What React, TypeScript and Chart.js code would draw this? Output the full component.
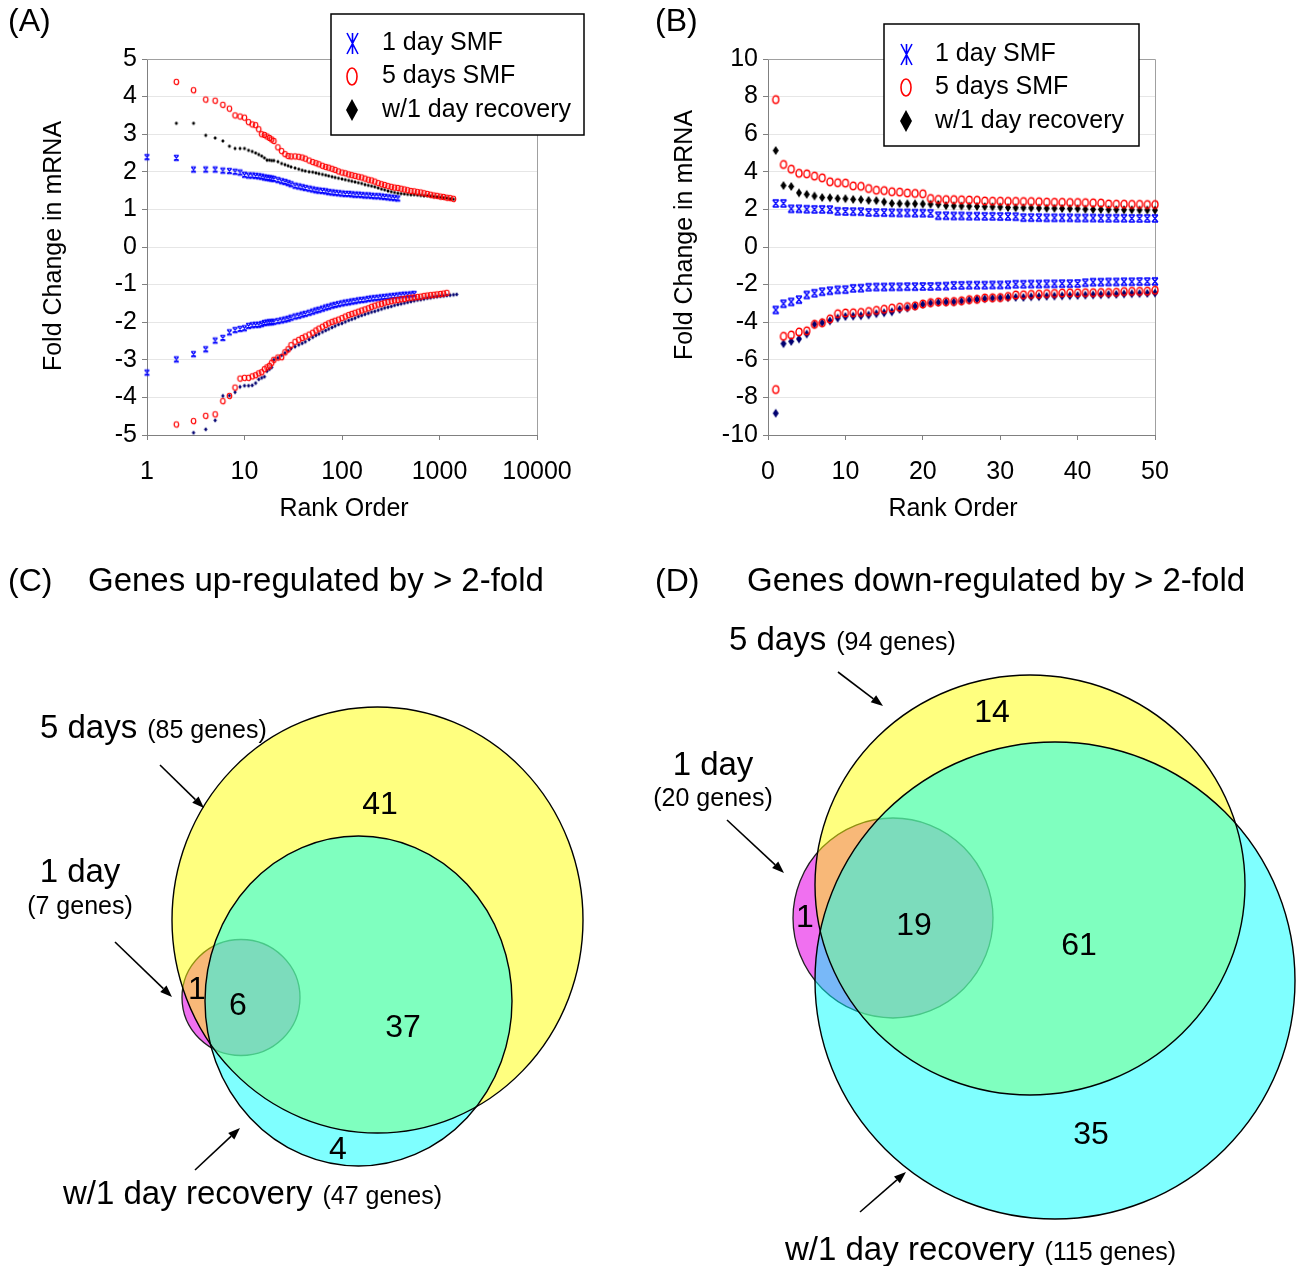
import React, { useEffect, useRef } from "react";
import { Chart, registerables } from "chart.js";

Chart.register(...registerables);

const FONT = '"Liberation Sans", Arial, Helvetica, sans-serif';

// ---------------- shared labels ----------------
const seriesLabels = ["1 day SMF", "5 days SMF", "w/1 day recovery"];

// ---------------- Panel A (log rank axis) ----------------
const xTicksA = [1, 10, 100, 1000, 10000];
const yTicksA = [-5, -4, -3, -2, -1, 0, 1, 2, 3, 4, 5];
const rankA = [
  1, 2, 3, 4, 5, 6, 7, 8, 9, 10, 11, 12, 13, 14, 15, 16, 17, 18, 19, 20,
  22, 24, 26, 28, 30, 33, 36, 39, 42, 46, 50,
  54, 58, 63, 68, 73, 79, 85, 92, 100,
  108, 117, 126, 136, 147, 159, 172, 186, 201,
  217, 235, 254, 274, 296, 320, 346, 374,
  404, 436, 471, 509, 550, 594, 642, 693, 749,
  809, 874, 944, 1020, 1100, 1190, 1285, 1390, 1500, 1600,
];
const oneDayUpA = [
  2.39, 2.37, 2.06, 2.06, 2.06, 2.03, 2.02, 2.0, 1.98, 1.92,
  1.9, 1.9, 1.89, 1.88, 1.87, 1.85, 1.84, 1.83, 1.82, 1.81,
  1.78, 1.75, 1.73, 1.7, 1.67, 1.63, 1.61, 1.59, 1.57, 1.55, 1.53,
  1.51, 1.5, 1.49, 1.48, 1.46, 1.45, 1.44, 1.43, 1.42,
  1.41, 1.41, 1.4, 1.39, 1.39, 1.38, 1.37, 1.37, 1.36,
  1.35, 1.35, 1.34, 1.33, 1.32, 1.31, 1.3, 1.29,
];
const fiveDaysUpA = [
  7.84, 4.39, 4.17, 3.92, 3.89, 3.78, 3.68, 3.5, 3.47, 3.44,
  3.32, 3.26, 3.24, 3.13, 3.0, 2.98, 2.94, 2.9, 2.86, 2.82,
  2.65, 2.55, 2.47, 2.42, 2.41, 2.41, 2.4, 2.38, 2.35, 2.3, 2.26,
  2.23, 2.2, 2.16, 2.13, 2.11, 2.08, 2.05, 2.01, 1.98,
  1.96, 1.93, 1.91, 1.89, 1.87, 1.85, 1.82, 1.79, 1.77,
  1.74, 1.7, 1.67, 1.65, 1.62, 1.6, 1.58, 1.57,
  1.55, 1.53, 1.51, 1.49, 1.48, 1.46, 1.45, 1.43, 1.41,
  1.39, 1.37, 1.36, 1.34, 1.33, 1.31, 1.3, 1.28,
];
const recoveryUpA = [
  5.13, 3.29, 3.29, 2.97, 2.9, 2.82, 2.68, 2.62, 2.62, 2.62,
  2.57, 2.54, 2.5, 2.46, 2.42, 2.37, 2.31, 2.31, 2.3, 2.3,
  2.27, 2.22, 2.19, 2.16, 2.13, 2.1, 2.07, 2.04, 2.02, 2.0, 1.99,
  1.97, 1.95, 1.93, 1.91, 1.89, 1.87, 1.85, 1.83, 1.81,
  1.79, 1.77, 1.75, 1.73, 1.71, 1.69, 1.66, 1.64, 1.62,
  1.6, 1.57, 1.54, 1.52, 1.49, 1.47, 1.45, 1.43,
  1.42, 1.41, 1.4, 1.39, 1.39, 1.38, 1.37, 1.36, 1.36,
  1.35, 1.34, 1.33, 1.32, 1.31, 1.3, 1.28, 1.27,
];
const oneDayDownA = [
  -3.34, -2.99, -2.85, -2.72, -2.49, -2.42, -2.27, -2.21, -2.18, -2.16,
  -2.1, -2.08, -2.07, -2.07, -2.05, -2.02, -2.01, -2.0, -2.0, -1.99,
  -1.97, -1.95, -1.93, -1.91, -1.88, -1.85, -1.83, -1.8, -1.78, -1.75, -1.72,
  -1.69, -1.67, -1.64, -1.61, -1.59, -1.56, -1.54, -1.52, -1.5,
  -1.48, -1.47, -1.45, -1.44, -1.42, -1.41, -1.4, -1.38, -1.37,
  -1.36, -1.35, -1.34, -1.33, -1.32, -1.31, -1.3, -1.29,
  -1.28, -1.27, -1.27, -1.26, -1.25,
];
const fiveDaysDownA = [
  -7.58, -4.72, -4.63, -4.49, -4.45, -4.1, -3.96, -3.74, -3.5, -3.48,
  -3.48, -3.44, -3.41, -3.36, -3.33, -3.25, -3.2, -3.16, -3.08, -3.0,
  -2.94, -2.93, -2.8, -2.72, -2.61, -2.52, -2.47, -2.42, -2.38, -2.33, -2.28,
  -2.22, -2.17, -2.12, -2.07, -2.03, -1.99, -1.96, -1.93, -1.89,
  -1.85, -1.81, -1.78, -1.75, -1.72, -1.69, -1.66, -1.63, -1.59,
  -1.56, -1.53, -1.51, -1.48, -1.46, -1.44, -1.42, -1.41,
  -1.39, -1.38, -1.36, -1.35, -1.34, -1.33, -1.32, -1.3, -1.29,
  -1.28, -1.27, -1.26, -1.25, -1.24, -1.22,
];
const recoveryDownA = [
  -8.84, -5.14, -4.94, -4.85, -4.61, -3.96, -3.95, -3.86, -3.72, -3.69,
  -3.69, -3.68, -3.62, -3.52, -3.48, -3.45, -3.3, -3.25, -3.2, -3.0,
  -2.95, -2.88, -2.82, -2.76, -2.7, -2.65, -2.6, -2.56, -2.52, -2.46, -2.4,
  -2.35, -2.31, -2.26, -2.22, -2.18, -2.14, -2.1, -2.06, -2.03,
  -1.99, -1.95, -1.92, -1.89, -1.85, -1.82, -1.79, -1.76, -1.73,
  -1.71, -1.68, -1.65, -1.62, -1.6, -1.58, -1.55, -1.53,
  -1.51, -1.49, -1.47, -1.45, -1.43, -1.41, -1.4, -1.38, -1.36,
  -1.35, -1.33, -1.32, -1.31, -1.3, -1.29, -1.28, -1.27, -1.26,
];

// ---------------- Panel B (top 50 ranks) ----------------
const xTicksB = [0, 10, 20, 30, 40, 50];
const yTicksB = [-10, -8, -6, -4, -2, 0, 2, 4, 6, 8, 10];
const rankB = [
  1, 2, 3, 4, 5, 6, 7, 8, 9, 10, 11, 12, 13, 14, 15, 16, 17, 18, 19, 20, 21, 22, 23, 24, 25,
  26, 27, 28, 29, 30, 31, 32, 33, 34, 35, 36, 37, 38, 39, 40, 41, 42, 43, 44, 45, 46, 47, 48, 49, 50,
];
const oneDayUpB = [
  2.32, 2.32, 2.03, 2.03, 2.01, 2.0, 2.0, 1.99, 1.9, 1.89,
  1.88, 1.88, 1.84, 1.83, 1.83, 1.82, 1.81, 1.81, 1.8, 1.8,
  1.79, 1.66, 1.66, 1.65, 1.65, 1.64, 1.64, 1.63, 1.63, 1.62,
  1.62, 1.61, 1.56, 1.56, 1.56, 1.55, 1.55, 1.55, 1.55, 1.54,
  1.54, 1.54, 1.53, 1.53, 1.53, 1.53, 1.52, 1.52, 1.52, 1.52,
];
const fiveDaysUpB = [
  7.84, 4.39, 4.14, 3.92, 3.89, 3.77, 3.68, 3.47, 3.42, 3.4,
  3.25, 3.23, 3.11, 3.02, 3.0, 2.94, 2.92, 2.87, 2.85, 2.83,
  2.58, 2.53, 2.52, 2.52, 2.51, 2.5, 2.49, 2.45, 2.44, 2.44,
  2.43, 2.43, 2.42, 2.42, 2.41, 2.39, 2.38, 2.38, 2.37, 2.37,
  2.36, 2.35, 2.34, 2.29, 2.28, 2.28, 2.27, 2.27, 2.26, 2.26,
];
const recoveryUpB = [
  5.13, 3.27, 3.22, 2.88, 2.8, 2.71, 2.63, 2.62, 2.58, 2.57,
  2.53, 2.52, 2.48, 2.47, 2.4, 2.32, 2.31, 2.3, 2.3, 2.29,
  2.28, 2.27, 2.2, 2.19, 2.18, 2.17, 2.16, 2.15, 2.14, 2.13,
  2.1, 2.09, 2.09, 2.08, 2.07, 2.06, 2.06, 2.05, 2.04, 2.04,
  2.01, 2.0, 2.0, 1.99, 1.99, 1.98, 1.98, 1.97, 1.97, 1.96,
];
const oneDayDownB = [
  -3.35, -3.02, -2.92, -2.8, -2.55, -2.46, -2.38, -2.33, -2.28, -2.27,
  -2.2, -2.19, -2.14, -2.13, -2.13, -2.12, -2.12, -2.11, -2.11, -2.1,
  -2.1, -2.09, -2.08, -2.04, -2.04, -2.03, -2.03, -2.03, -2.02, -2.02,
  -2.01, -1.98, -1.98, -1.97, -1.97, -1.96, -1.96, -1.95, -1.95, -1.94,
  -1.9, -1.87, -1.87, -1.86, -1.86, -1.85, -1.85, -1.84, -1.84, -1.83,
];
const fiveDaysDownB = [
  -7.58, -4.75, -4.68, -4.52, -4.46, -4.11, -4.03, -3.82, -3.55, -3.51,
  -3.5, -3.48, -3.43, -3.37, -3.31, -3.25, -3.2, -3.17, -3.13, -3.03,
  -2.96, -2.92, -2.91, -2.9, -2.86, -2.8, -2.78, -2.71, -2.7, -2.69,
  -2.63, -2.55, -2.54, -2.52, -2.51, -2.48, -2.47, -2.45, -2.44, -2.44,
  -2.43, -2.43, -2.42, -2.42, -2.41, -2.37, -2.36, -2.36, -2.35, -2.3,
];
const recoveryDownB = [
  -8.84, -5.14, -5.02, -4.89, -4.63, -4.11, -4.03, -3.93, -3.78, -3.7,
  -3.68, -3.66, -3.62, -3.55, -3.5, -3.45, -3.32, -3.25, -3.15, -3.05,
  -2.98, -2.95, -2.93, -2.92, -2.88, -2.82, -2.78, -2.75, -2.72, -2.7,
  -2.69, -2.68, -2.68, -2.65, -2.64, -2.62, -2.61, -2.6, -2.59, -2.58,
  -2.56, -2.55, -2.54, -2.53, -2.52, -2.5, -2.49, -2.48, -2.47, -2.45,
];

// ---------------- Venn data (C, D) ----------------
const vennSetNames = ["5 days", "1 day", "w/1 day recovery"];
const upSetCounts = [85, 7, 47];
const upRegionCounts = [41, 1, 6, 37, 4];
const downSetCounts = [94, 20, 115];
const downRegionCounts = [14, 1, 19, 61, 35];
const vennTitles = ["Genes up-regulated by > 2-fold", "Genes down-regulated by > 2-fold"];
const panelLetters = ["(A)", "(B)", "(C)", "(D)"];

// ---------------- layout (positions / sizes only) ----------------
const LAYOUT_A = { W: 650, H: 540, area: { left: 147, top: 59, right: 537, bottom: 435 },
  letter: [8, 22], yTitle: [54, 246], xTitle: [344, 509],
  legend: { x: 331, y: 14, w: 253, h: 121, mx: 352, tx: 382, rows: [43, 76, 110] } };
const LAYOUT_B = { W: 649, H: 540, area: { left: 118, top: 59, right: 505, bottom: 435 },
  letter: [5, 22], yTitle: [35, 235], xTitle: [303, 509],
  legend: { x: 234, y: 24, w: 255, h: 122, mx: 256, tx: 285, rows: [54, 87, 121] } };

const LAYOUT_C = {
  W: 650, H: 726, letter: [8, 42], title: [88, 42],
  geom: [
    { cx: 377.5, cy: 380, rx: 205.5, ry: 213 },
    { cx: 241, cy: 457.5, rx: 59, ry: 58 },
    { cx: 358.5, cy: 461, rx: 153.5, ry: 165 },
  ],
  setLabels: [
    { x: 40, y: 198, mode: "inline" },
    { x: 80, y: 342, y2: 374, mode: "stacked" },
    { x: 63, y: 664, mode: "inline" },
  ],
  regions: [[380, 265], [197, 450], [238, 466], [403, 488], [338, 610]],
  arrows: [[160, 225, 204, 268], [115, 402, 172, 457], [195, 630, 240, 588]],
};
const LAYOUT_D = {
  W: 649, H: 726, letter: [5, 42], title: [97, 42],
  geom: [
    { cx: 380, cy: 345, rx: 215, ry: 210 },
    { cx: 243, cy: 378, rx: 100, ry: 100 },
    { cx: 405, cy: 440.5, rx: 240, ry: 238.5 },
  ],
  setLabels: [
    { x: 79, y: 110, mode: "inline" },
    { x: 63, y: 235, y2: 266, mode: "stacked" },
    { x: 135, y: 720, mode: "inline" },
  ],
  regions: [[342, 173], [155, 378], [264, 386], [429, 406], [441, 595]],
  arrows: [[188, 132, 233, 166], [77, 280, 134, 333], [210, 672, 256, 632]],
};

const BLUE = "#0000ff";
const RED = "#ff0000";
const BLACK = "#000000";
const NAVY = "#000070";

function makeMarker(kind: string, color: string, w: number, h: number, lw: number) {
  const pad = Math.ceil(lw) + 1;
  const c = document.createElement("canvas");
  c.width = Math.ceil(w) + pad * 2;
  c.height = Math.ceil(h) + pad * 2;
  const ctx = c.getContext("2d")!;
  const cx = c.width / 2, cy = c.height / 2;
  const l = cx - w / 2, r = cx + w / 2, t = cy - h / 2, b = cy + h / 2;
  ctx.strokeStyle = color;
  ctx.fillStyle = color;
  ctx.lineWidth = lw;
  ctx.beginPath();
  if (kind === "ring") {
    ctx.ellipse(cx, cy, w / 2, h / 2, 0, 0, Math.PI * 2);
    ctx.stroke();
  } else if (kind === "diamond") {
    ctx.moveTo(cx, t); ctx.lineTo(r, cy); ctx.lineTo(cx, b); ctx.lineTo(l, cy); ctx.closePath();
    ctx.fill();
  } else if (kind === "hourglass") {
    ctx.moveTo(l, t); ctx.lineTo(r, b); ctx.moveTo(r, t); ctx.lineTo(l, b);
    ctx.moveTo(l, t); ctx.lineTo(r, t); ctx.moveTo(l, b); ctx.lineTo(r, b);
    ctx.stroke();
  } else {
    ctx.moveTo(l, t); ctx.lineTo(r, b); ctx.moveTo(r, t); ctx.lineTo(l, b);
    ctx.moveTo(cx, t); ctx.lineTo(cx, b);
    ctx.stroke();
  }
  return c;
}

function dataset(label: string, xs: number[], ys: number[], marker: HTMLCanvasElement) {
  return {
    label,
    data: ys.map((y, i) => ({ x: xs[i], y })),
    pointStyle: marker,
    pointRadius: 3,
    pointHoverRadius: 3,
    showLine: false,
    clip: { left: 6, top: 2, right: 6, bottom: 2 },
  };
}

function rankChart(canvas: HTMLCanvasElement, L: any, xType: string, xMin: number, xMax: number,
  xTicks: number[], yTicks: number[], datasets: any[], letter: string, legendMarkers: HTMLCanvasElement[]) {
  const area = L.area;
  const decor = {
    id: "rankDecor",
    beforeDatasetsDraw(chart: any) {
      const { ctx, chartArea: a } = chart;
      ctx.save();
      ctx.strokeStyle = "#a0a0a0";
      ctx.lineWidth = 1;
      ctx.beginPath();
      ctx.moveTo(a.left, Math.round(a.top) + 0.5);
      ctx.lineTo(Math.round(a.right) + 0.5, Math.round(a.top) + 0.5);
      ctx.lineTo(Math.round(a.right) + 0.5, a.bottom);
      ctx.stroke();
      ctx.restore();
    },
    afterDraw(chart: any) {
      const ctx = chart.ctx;
      ctx.save();
      ctx.fillStyle = "#000";
      ctx.font = `32px ${FONT}`;
      ctx.textAlign = "left";
      ctx.textBaseline = "middle";
      ctx.fillText(letter, L.letter[0], L.letter[1]);
      ctx.font = `25px ${FONT}`;
      ctx.textAlign = "center";
      ctx.fillText("Rank Order", L.xTitle[0], L.xTitle[1]);
      ctx.save();
      ctx.translate(L.yTitle[0], L.yTitle[1]);
      ctx.rotate(-Math.PI / 2);
      ctx.fillText("Fold Change in mRNA", 0, 0);
      ctx.restore();
      const g = L.legend;
      ctx.fillStyle = "#fff";
      ctx.fillRect(g.x, g.y, g.w, g.h);
      ctx.strokeStyle = "#000";
      ctx.lineWidth = 1.5;
      ctx.strokeRect(g.x, g.y, g.w, g.h);
      ctx.fillStyle = "#000";
      ctx.textAlign = "left";
      ctx.font = `25px ${FONT}`;
      seriesLabels.forEach((lab, i) => {
        const m = legendMarkers[i];
        ctx.drawImage(m, Math.round(g.mx - m.width / 2), Math.round(g.rows[i] - m.height / 2));
        ctx.fillText(lab, g.tx, g.rows[i]);
      });
      ctx.restore();
    },
  };
  const tickFont = { family: FONT, size: 25 };
  return new Chart(canvas, {
    type: "scatter",
    data: { datasets },
    options: {
      animation: false,
      responsive: false,
      events: [],
      layout: { padding: { left: 0, top: area.top, right: L.W - area.right, bottom: 0 } },
      plugins: { legend: { display: false }, tooltip: { enabled: false } },
      scales: {
        x: {
          type: xType as any,
          min: xMin,
          max: xMax,
          afterBuildTicks: (s: any) => { s.ticks = xTicks.map((v) => ({ value: v })); },
          afterFit: (s: any) => { s.height = L.H - area.bottom; },
          grid: { drawOnChartArea: false, drawTicks: true, tickLength: 5, tickColor: "#808080" },
          border: { display: true, color: "#808080", width: 1 },
          ticks: { font: tickFont, color: "#000", padding: 17, autoSkip: false, maxRotation: 0,
            callback: (v: any) => String(v) },
        },
        y: {
          type: "linear",
          min: yTicks[0],
          max: yTicks[yTicks.length - 1],
          afterBuildTicks: (s: any) => { s.ticks = yTicks.map((v) => ({ value: v })); },
          afterFit: (s: any) => { s.width = area.left; },
          grid: { color: "#e6e6e6", drawTicks: true, tickLength: 5, tickColor: "#808080" },
          border: { display: true, color: "#808080", width: 1 },
          ticks: { font: tickFont, color: "#000", padding: 5, autoSkip: false,
            callback: (v: any) => String(v) },
        },
      },
    } as any,
    plugins: [decor],
  });
}

function drawArrow(ctx: CanvasRenderingContext2D, x1: number, y1: number, x2: number, y2: number) {
  const ang = Math.atan2(y2 - y1, x2 - x1);
  const L = 12, Wd = 4.5;
  const bx = x2 - L * Math.cos(ang), by = y2 - L * Math.sin(ang);
  ctx.beginPath();
  ctx.moveTo(x1, y1);
  ctx.lineTo(bx, by);
  ctx.strokeStyle = "#000";
  ctx.lineWidth = 1.6;
  ctx.stroke();
  ctx.beginPath();
  ctx.moveTo(x2, y2);
  ctx.lineTo(bx + Wd * Math.sin(ang), by - Wd * Math.cos(ang));
  ctx.lineTo(bx - Wd * Math.sin(ang), by + Wd * Math.cos(ang));
  ctx.closePath();
  ctx.fillStyle = "#000";
  ctx.fill();
}

function vennChart(canvas: HTMLCanvasElement, L: any, letter: string, title: string,
  setCounts: number[], regionCounts: number[]) {
  const plugin = {
    id: "venn",
    beforeDatasetsDraw(chart: any) {
      const ctx = chart.ctx;
      const sx = chart.scales.x, sy = chart.scales.y;
      const path = (g: any) => {
        const cx = sx.getPixelForValue(g.cx), cy = sy.getPixelForValue(g.cy);
        const rx = Math.abs(sx.getPixelForValue(g.cx + g.rx) - cx);
        const ry = Math.abs(sy.getPixelForValue(g.cy + g.ry) - cy);
        ctx.beginPath();
        ctx.ellipse(cx, cy, rx, ry, 0, 0, Math.PI * 2);
      };
      const [five, one, rec] = L.geom;
      ctx.save();
      path(one); ctx.fillStyle = "rgb(240,112,240)"; ctx.fill();
      ctx.strokeStyle = "#202020"; ctx.lineWidth = 1.3; ctx.stroke();
      path(five); ctx.fillStyle = "rgba(255,255,0,0.5)"; ctx.fill();
      path(rec); ctx.fillStyle = "rgba(0,255,255,0.5)"; ctx.fill();
      ctx.strokeStyle = "#000"; ctx.lineWidth = 1.4;
      path(five); ctx.stroke();
      path(rec); ctx.stroke();
      ctx.restore();
    },
    afterDraw(chart: any) {
      const ctx = chart.ctx;
      const sx = chart.scales.x, sy = chart.scales.y;
      const X = (v: number) => sx.getPixelForValue(v);
      const Y = (v: number) => sy.getPixelForValue(v);
      ctx.save();
      ctx.fillStyle = "#000";
      ctx.textBaseline = "middle";
      ctx.textAlign = "left";
      ctx.font = `32px ${FONT}`;
      ctx.fillText(letter, X(L.letter[0]), Y(L.letter[1]));
      ctx.font = `33px ${FONT}`;
      ctx.fillText(title, X(L.title[0]), Y(L.title[1]));
      // set labels
      ctx.textBaseline = "alphabetic";
      L.setLabels.forEach((p: any, i: number) => {
        const big = vennSetNames[i];
        const small = `(${setCounts[i]} genes)`;
        if (p.mode === "inline") {
          ctx.textAlign = "left";
          ctx.font = `33px ${FONT}`;
          ctx.fillText(big, X(p.x), Y(p.y));
          const w = ctx.measureText(big).width;
          ctx.font = `25px ${FONT}`;
          ctx.fillText(small, X(p.x) + w + 10, Y(p.y));
        } else {
          ctx.textAlign = "center";
          ctx.font = `33px ${FONT}`;
          ctx.fillText(big, X(p.x), Y(p.y));
          ctx.font = `25px ${FONT}`;
          ctx.fillText(small, X(p.x), Y(p.y2));
        }
      });
      // region counts
      ctx.textAlign = "center";
      ctx.textBaseline = "middle";
      ctx.font = `32px ${FONT}`;
      L.regions.forEach((p: number[], i: number) => {
        ctx.fillText(String(regionCounts[i]), X(p[0]), Y(p[1]));
      });
      L.arrows.forEach((a: number[]) => drawArrow(ctx, X(a[0]), Y(a[1]), X(a[2]), Y(a[3])));
      ctx.restore();
    },
  };
  return new Chart(canvas, {
    type: "scatter",
    data: {
      datasets: [{
        label: "sets",
        data: L.geom.map((g: any) => ({ x: g.cx, y: g.cy })),
        pointRadius: 0,
        pointHoverRadius: 0,
      }],
    },
    options: {
      animation: false,
      responsive: false,
      events: [],
      layout: { padding: 0 },
      plugins: { legend: { display: false }, tooltip: { enabled: false } },
      scales: {
        x: { type: "linear", min: 0, max: L.W, display: false },
        y: { type: "linear", min: 0, max: L.H, reverse: true, display: false },
      },
    } as any,
    plugins: [plugin],
  });
}

export default function App() {
  const refA = useRef<HTMLCanvasElement>(null);
  const refB = useRef<HTMLCanvasElement>(null);
  const refC = useRef<HTMLCanvasElement>(null);
  const refD = useRef<HTMLCanvasElement>(null);

  useEffect(() => {
    const charts: Chart[] = [];
    // markers for panel A (small)
    const aBlue = makeMarker("hourglass", BLUE, 4.5, 5.5, 1.2);
    const aRed = makeMarker("ring", RED, 4.5, 5.5, 1.2);
    const aBlack = makeMarker("diamond", BLACK, 3.5, 4, 1);
    const aNavy = makeMarker("diamond", NAVY, 3.5, 4.5, 1);
    // markers for panel B (larger)
    const bBlue = makeMarker("hourglass", BLUE, 6, 7, 1.3);
    const bRed = makeMarker("ring", RED, 6, 7.5, 1.4);
    const bBlack = makeMarker("diamond", BLACK, 6, 9, 1);
    const bNavy = makeMarker("diamond", NAVY, 6, 9, 1);
    // legend markers
    const lBlue = makeMarker("asterisk", BLUE, 11, 21, 1.6);
    const lRed = makeMarker("ring", RED, 10, 17, 1.6);
    const lBlack = makeMarker("diamond", BLACK, 12, 22, 1);
    const legendMarkers = [lBlue, lRed, lBlack];

    const dsA = [
      dataset("5 days SMF up", rankA, fiveDaysUpA, aRed),
      dataset("5 days SMF down", rankA, fiveDaysDownA, aRed),
      dataset("w/1 day recovery up", rankA, recoveryUpA, aBlack),
      dataset("w/1 day recovery down", rankA, recoveryDownA, aNavy),
      dataset("1 day SMF up", rankA, oneDayUpA, aBlue),
      dataset("1 day SMF down", rankA, oneDayDownA, aBlue),
    ];
    const dsB = [
      dataset("5 days SMF up", rankB, fiveDaysUpB, bRed),
      dataset("5 days SMF down", rankB, fiveDaysDownB, bRed),
      dataset("w/1 day recovery up", rankB, recoveryUpB, bBlack),
      dataset("w/1 day recovery down", rankB, recoveryDownB, bNavy),
      dataset("1 day SMF up", rankB, oneDayUpB, bBlue),
      dataset("1 day SMF down", rankB, oneDayDownB, bBlue),
    ];
    charts.push(rankChart(refA.current!, LAYOUT_A, "logarithmic", xTicksA[0], xTicksA[xTicksA.length - 1],
      xTicksA, yTicksA, dsA, panelLetters[0], legendMarkers));
    charts.push(rankChart(refB.current!, LAYOUT_B, "linear", xTicksB[0], xTicksB[xTicksB.length - 1],
      xTicksB, yTicksB, dsB, panelLetters[1], legendMarkers));
    charts.push(vennChart(refC.current!, LAYOUT_C, panelLetters[2], vennTitles[0], upSetCounts, upRegionCounts));
    charts.push(vennChart(refD.current!, LAYOUT_D, panelLetters[3], vennTitles[1], downSetCounts, downRegionCounts));
    return () => charts.forEach((c) => c.destroy());
  }, []);

  const cs = (left: number, top: number, w: number, h: number): React.CSSProperties => ({
    position: "absolute", left, top, width: w, height: h, display: "block",
  });

  return (
    <div style={{ position: "absolute", left: 0, top: 0, width: 1299, height: 1266, background: "#fff", overflow: "hidden" }}>
      <canvas ref={refA} width={650} height={540} style={cs(0, 0, 650, 540)} />
      <canvas ref={refB} width={649} height={540} style={cs(650, 0, 649, 540)} />
      <canvas ref={refC} width={650} height={726} style={cs(0, 540, 650, 726)} />
      <canvas ref={refD} width={649} height={726} style={cs(650, 540, 649, 726)} />
    </div>
  );
}
